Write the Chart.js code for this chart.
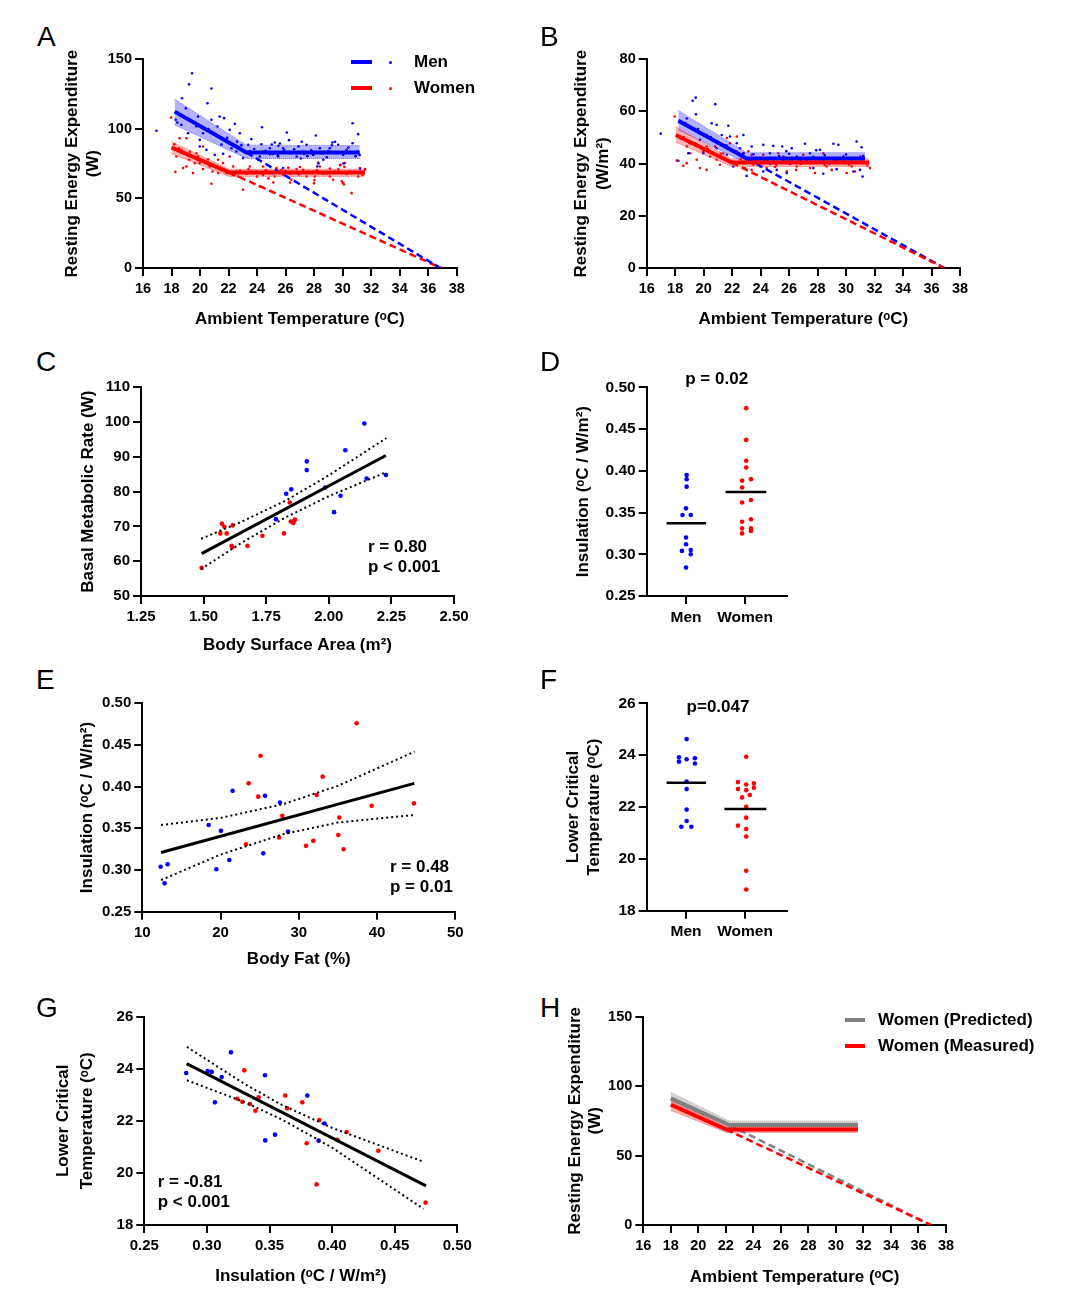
<!DOCTYPE html>
<html><head><meta charset="utf-8">
<script src="https://cdn.jsdelivr.net/npm/chart.js@4.4.0/dist/chart.umd.min.js"></script>
<style>
body{margin:0;background:#fff;width:1080px;height:1308px;position:relative;overflow:hidden;font-family:'Liberation Sans',Arial,sans-serif;}
canvas{position:absolute;}
.t{position:absolute;font-weight:bold;font-size:17px;line-height:20px;color:#000;white-space:nowrap;}
.c{transform:translateX(-50%);}
.L{position:absolute;font-size:28px;line-height:28px;color:#000;}
.sw{position:absolute;height:4px;}
.dot{position:absolute;width:3px;height:3px;border-radius:50%;}
</style></head><body>
<script>
// ---------------- DATA ----------------
const tempTicks = [16,18,20,22,24,26,28,30,32,34,36,38];
const reeWTicks = [0,50,100,150];
const reeM2Ticks = [0,20,40,60,80];
const bsaTicks = [1.25,1.50,1.75,2.00,2.25,2.50];
const bmrTicks = [50,60,70,80,90,100,110];
const insTicks = [0.25,0.30,0.35,0.40,0.45,0.50];
const fatTicks = [10,20,30,40,50];
const lctTicks = [18,20,22,24,26];
const groupTicks = [1,2];
const groupLabels = ['Men','Women'];

// Panel A (W)
const A_menFit = [[18.22,112.4],[23.26,83.0],[31.2,83.0]];
const A_menExt = [[23.26,83.0],[36.85,0]];
const A_menUp = [[18.22,121.3],[23.26,88.3],[31.2,88.0]];
const A_menLo = [[18.22,102.9],[23.26,78.7],[31.2,78.7]];
const A_womFit = [[18.0,86.6],[22.04,68.7],[31.56,68.7]];
const A_womExt = [[22.04,68.7],[36.9,0]];
const A_womUp = [[18.0,90.9],[22.04,71.1],[31.56,71.1]];
const A_womLo = [[18.0,82.1],[22.04,65.8],[31.56,65.8]];
const A_menPts = [[16.94,98.6],[19.44,140],[19.23,132],[20.80,129],[18.74,122],[20.52,118.4],[18.29,106.5],[19.86,108.9],[20.80,106.5],[21.38,108.9],[21.69,107.7],[21.22,101.7],[22.08,99.3],[22.44,103.6],[22.79,96.9],[24.35,101.2],[23.6,92.6],[25.24,90.2],[25.5,87.8],[26.09,97.4],[27.47,88.5],[28.12,95.2],[29.29,90.2],[30.7,104],[31.09,96.2],[30.7,89.7],[24.9,86.1],[26.77,80.1],[28.22,73],[25.83,71.8],[28.64,77.8],[30.04,81.3],[31.2,81.3],[24.07,77.8],[23.02,79],[22.2,86.1],[21.62,82.1],[20.21,96.9],[19.74,101.7],[19.16,96.9],[18.69,102.9],[18.46,111.2],[19.0,114.8],[19.51,105.3],[19.98,92.1],[20.45,84.9],[21.03,81.3],[19.98,87.3],[22.55,83.7],[24.42,83.7],[25.83,86.1],[27.12,83.7],[29.1,86.1],[30.28,84.9],[24.9,81.8],[26.3,82.5],[27.94,81.3],[29.57,82.5],[31.05,83.7],[23.37,88.5],[24.19,80.1],[25.48,80.1],[28.4,86.1],[29.69,88.5],[27.13,90.7],[26.24,91.9],[29.24,88.3],[29.47,90.7],[31.22,71.1],[28.3,75.1],[30.05,75.1],[25.03,88.8],[25.6,89.5],[25.45,81.1],[27.08,78.7],[27.53,80.4],
  [23.8,85.5],[24.6,84.2],[25.1,82.0],[25.9,84.8],[26.6,85.3],[27.3,81.9],[27.8,84.6],[28.6,82.3],[29.0,84.0],[29.9,83.1],[30.4,86.6],[30.9,80.4],[24.3,88.9],[26.9,87.4],[28.9,79.6],[23.5,84.0],[22.9,88.3],[21.9,93.5],[21.1,96.0],[20.6,99.8],[19.6,104.2],[18.9,108.0],[18.4,104.6],[22.6,90.8],[21.5,88.7]];
const A_womPts = [[17.97,108.1],[18.27,69.1],[18.57,93.3],[19.04,93.3],[18.81,71.8],[19.51,68.2],[20.80,60.5],[19.74,82.5],[20.21,87.3],[18.34,80.1],[18.69,84.9],[19.23,77.8],[19.98,75.4],[20.68,73],[21.27,77.8],[21.62,75.4],[22.08,80.1],[22.32,73],[23.02,56.2],[22.67,65.8],[23.49,73],[24.19,58.6],[24.42,73],[25.24,65.8],[25.83,67],[26.77,71.1],[27.94,69.4],[27.99,61],[28.29,75.8],[29.1,65.8],[29.85,74.2],[30.04,61],[30.63,53.8],[30.16,75.4],[31.56,70.6],[31.09,65.8],[22.55,69.4],[23.96,69.4],[24.89,68.2],[26.3,67.7],[27.23,70.6],[28.64,67.7],[30.51,69.4],[23.26,67.7],[24.42,67],[25.71,70.6],[27.47,65.8],[28.4,73],[29.45,69.4],[31.21,71.8],[21.85,68.2],[21.27,68.2],[20.87,69.4],[20.21,71.1],[19.63,75.4],[19.16,81.3],[19.86,80.1],[20.56,78.2],[21.15,73],[19.04,73],[28.05,65.8],[29.34,63.4],[26.41,63.4],[25.36,71.8],[29.82,73.9],[30.12,72.7],[29.94,62.4],[30.1,60],[31.57,71.1],[26.31,61.5],[28.02,63.2],[26.19,72],[24.79,64.4],[25.14,61.5],
  [22.8,69.8],[23.7,67.9],[24.6,70.4],[25.5,68.5],[26.0,69.8],[26.9,67.3],[27.6,69.1],[28.2,70.3],[28.9,68.1],[29.7,70.9],[30.3,67.6],[31.0,68.9],[22.3,66.9],[21.5,71.5],[20.9,74.4],[20.4,75.8],[19.3,83.6],[18.5,86.0],[18.2,88.9],[19.9,78.3],[23.4,71.2],[27.0,72.6],[29.1,71.4],[31.4,67.0],[24.0,65.7]];

// Panel B (W/m2)
const B_menFit = [[18.22,56.4],[23.02,42.0],[31.33,42.0]];
const B_menExt = [[23.02,42.0],[36.9,0]];
const B_menUp = [[18.22,60.4],[23.02,44.2],[31.33,44.2]];
const B_menLo = [[18.22,52.9],[23.02,40.2],[31.33,40.2]];
const B_womFit = [[18.04,51.0],[21.97,40.4],[31.63,40.4]];
const B_womExt = [[21.97,40.4],[36.9,0]];
const B_womUp = [[18.04,54.2],[21.97,41.9],[31.63,41.9]];
const B_womLo = [[18.04,48.2],[21.97,38.9],[31.63,38.9]];
const B_menPts = [[16.98,51.5],[19.44,65.3],[19.23,64.1],[20.82,62.8],[18.81,57.3],[19.46,58.9],[20.56,55.5],[20.91,54.9],[21.73,54.5],[22.79,51.0],[21.85,50.4],[21.27,51.0],[22.32,47.8],[20.21,51.0],[19.74,49.1],[19.04,47.8],[18.22,41.1],[18.93,44.0],[19.98,44.0],[20.91,45.9],[21.62,43.4],[23.37,46.6],[24.19,47.2],[24.89,46.8],[25.52,46.6],[26.18,45.9],[27.12,47.6],[28.17,45.3],[29.11,47.6],[29.46,47.2],[30.74,48.5],[31.09,46.3],[23.02,35.3],[24.19,37.0],[25.13,37.6],[25.83,36.4],[26.77,40.2],[27.7,38.3],[28.4,36.1],[29.34,37.9],[30.51,37.0],[31.16,35.1],[30.98,37.6],[23.96,42.1],[24.66,44.0],[25.6,41.5],[26.53,42.7],[27.47,44.0],[28.4,41.5],[29.81,42.7],[30.28,40.8],[23.6,40.8],[24.66,39.9],[26.06,39.9],[27.23,41.5],[28.87,39.9],[29.93,40.2],[22.08,38.9],[22.55,45.9],
  [23.5,43.6],[24.4,41.3],[25.3,42.9],[26.0,43.8],[26.8,41.0],[27.7,42.6],[28.5,43.2],[29.2,40.9],[30.0,43.5],[30.8,41.8],[31.2,42.9],[22.8,44.0],[21.6,47.0],[20.5,50.2],[19.6,53.3],[18.7,55.6],[25.8,44.8],[27.9,45.1]];
const B_womPts = [[17.97,58.1],[18.11,41.2],[18.57,39.2],[18.81,46.6],[19.28,47.8],[19.51,41.5],[19.74,38.3],[20.21,37.6],[19.98,44.7],[20.45,42.7],[20.8,46.6],[21.15,39.6],[21.62,49.8],[21.85,47.8],[22.32,50.4],[21.97,40.8],[22.79,44.0],[23.37,37.6],[23.72,41.5],[24.42,38.3],[24.89,40.8],[25.24,44.0],[25.83,37.0],[26.53,38.9],[27.23,41.5],[27.82,36.4],[28.64,38.9],[29.34,41.5],[30.04,36.4],[30.63,37.0],[31.21,40.2],[31.68,38.3],[24.19,43.4],[25.6,42.7],[27.0,43.4],[28.4,44.0],[29.81,41.5],[31.0,42.7],[23.02,41.5],[23.96,38.9],[25.01,38.7],[26.18,40.8],[27.47,38.3],[28.17,41.5],[28.99,37.6],[30.39,38.9],[19.04,44.0],[18.34,49.8],[20.21,46.6],[20.91,41.5],[21.38,44.0],[22.32,44.7],[23.14,44.7],[23.37,43.4],[18.81,40.2],
  [22.6,41.8],[23.5,39.6],[24.3,41.0],[25.1,39.5],[26.0,41.6],[26.8,39.9],[27.6,40.6],[28.5,39.6],[29.3,40.9],[30.2,39.7],[31.1,41.3],[31.5,39.2],[21.2,43.8],[20.3,45.6],[19.4,47.8],[18.6,50.2],[22.9,38.2],[26.5,37.6]];

// Panel C
const C_men = [[2.142,99.6],[2.066,91.9],[1.912,88.7],[1.912,86.2],[1.850,80.7],[1.830,79.4],[2.228,84.8],[2.151,83.8],[2.047,78.8],[2.021,74.1],[1.789,72.1],[1.985,81.2]];
const C_wom = [[1.844,76.9],[1.865,72.0],[1.848,71.4],[1.858,71.0],[1.862,71.6],[1.821,68.0],[1.735,67.3],[1.675,64.4],[1.615,64.0],[1.616,70.3],[1.573,70.8],[1.583,69.9],[1.567,68.0],[1.592,68.0],[1.492,58.1],[1.612,64.4]];
const C_fit = [[1.492,62.2],[2.228,90.4]];
const C_ciUp = [[1.49,66.45],[1.65,71.3],[1.83,77.5],[2.0,84.7],[2.23,95.4]];
const C_ciLo = [[1.49,57.75],[1.65,65.2],[1.83,72.7],[2.0,78.7],[2.23,85.6]];

// Panel D
const D_men = [[1.01,0.395],[1.01,0.390],[1.01,0.381],[1.0,0.355],[0.94,0.347],[1.08,0.347],[1.0,0.320],[1.0,0.312],[0.93,0.304],[1.08,0.305],[1.08,0.300],[1.0,0.284]];
const D_wom = [[2.02,0.475],[2.02,0.437],[2.02,0.412],[2.02,0.404],[2.1,0.390],[1.95,0.388],[1.95,0.380],[2.1,0.365],[1.95,0.362],[2.1,0.342],[1.95,0.339],[1.95,0.331],[2.1,0.331],[2.1,0.328],[1.95,0.325]];
const D_menMean = [[0.67,0.337],[1.34,0.337]];
const D_womMean = [[1.67,0.3746],[2.36,0.3746]];

// Panel E
const E_men = [[12.34,0.304],[13.24,0.307],[12.85,0.284],[18.48,0.354],[20.05,0.347],[19.46,0.301],[21.12,0.312],[21.54,0.395],[25.68,0.389],[25.46,0.320],[27.59,0.381],[28.62,0.346]];
const E_wom = [[37.39,0.476],[25.12,0.437],[23.59,0.404],[24.82,0.388],[33.05,0.412],[32.28,0.390],[27.89,0.365],[39.31,0.377],[44.72,0.380],[35.18,0.363],[35.05,0.342],[27.47,0.339],[31.85,0.335],[30.92,0.329],[35.73,0.325],[23.25,0.331]];
const E_fit = [[12.39,0.321],[44.76,0.404]];
const E_ciUp = [[12.4,0.354],[20,0.3625],[28,0.379],[35,0.401],[44.8,0.442]];
const E_ciLo = [[12.4,0.288],[20,0.3185],[28,0.343],[35,0.357],[44.8,0.366]];

// Panel F
const F_men = [[1.01,24.62],[0.88,23.92],[0.88,23.75],[1.01,23.84],[1.15,23.88],[1.15,23.68],[1.01,22.98],[1.01,22.69],[1.01,21.90],[1.01,21.46],[0.92,21.24],[1.09,21.24]];
const F_wom = [[2.02,23.94],[1.88,22.96],[2.02,22.87],[2.15,22.91],[1.88,22.69],[2.02,22.65],[2.15,22.74],[2.08,22.46],[1.95,22.37],[2.02,22.01],[2.02,21.59],[1.88,21.28],[2.02,21.15],[2.02,20.86],[2.02,19.54],[2.02,18.82]];
const F_menMean = [[0.67,22.94],[1.34,22.94]];
const F_womMean = [[1.65,21.92],[2.36,21.92]];

// Panel G
const G_men = [[0.2835,23.84],[0.3006,23.91],[0.3038,23.88],[0.3118,23.68],[0.3064,22.71],[0.3192,24.63],[0.3464,23.75],[0.3466,21.25],[0.3544,21.47],[0.3802,22.97],[0.3940,21.90],[0.3892,21.24]];
const G_wom = [[0.3299,23.94],[0.3243,22.85],[0.3283,22.73],[0.3344,22.65],[0.3387,22.39],[0.3413,22.90],[0.3626,22.97],[0.3642,22.48],[0.3762,22.71],[0.3898,22.03],[0.3797,21.14],[0.4042,21.27],[0.4116,21.57],[0.4369,20.85],[0.3876,19.56],[0.4747,18.86]];
const G_fit = [[0.2838,24.20],[0.475,19.50]];
const G_ciUp = [[0.284,24.84],[0.33,23.42],[0.36,22.61],[0.40,21.73],[0.473,20.43]];
const G_ciLo = [[0.284,23.56],[0.33,22.72],[0.36,22.05],[0.40,20.97],[0.473,18.62]];

// Panel H
const H_predFit = [[18.0,91.2],[22.25,72.0],[31.6,72.0]];
const H_predExt = [[22.25,72.0],[36.9,0]];
const H_predUp = [[18.0,95.5],[22.25,74.8],[31.6,74.8]];
const H_predLo = [[18.0,86.5],[22.25,69.4],[31.6,69.4]];
const H_measFit = [[18.0,86.6],[22.04,68.7],[31.6,68.7]];
const H_measExt = [[22.04,68.7],[36.9,0]];
const H_measUp = [[18.0,90.5],[22.04,70.8],[31.6,70.8]];
const H_measLo = [[18.0,82.5],[22.04,66.7],[31.6,66.7]];

// ---------------- STYLE / HELPERS ----------------
const BLUE='#0000ff', RED='#ff0000', GRAY='#808080';
const FAM="'Liberation Sans', Arial, sans-serif";
Chart.defaults.font.family = FAM;
Chart.defaults.color = '#000';
const DEG='\u1D52';

const P = a => a.map(p=>({x:p[0],y:p[1]}));
const line = (d,c,w,dash) => ({type:'line',data:P(d),borderColor:c,borderWidth:w,borderDash:dash||[],pointRadius:0,fill:false,tension:0,showLine:true,borderCapStyle:'butt'});
const bandUp = (d,fillc,edge) => ({type:'line',data:P(d),borderColor:edge,borderWidth:1,borderDash:[1,1],pointRadius:0,fill:'+1',backgroundColor:fillc,tension:0,showLine:true});
const bandLo = (d,edge) => ({type:'line',data:P(d),borderColor:edge,borderWidth:1,borderDash:[1,1],pointRadius:0,fill:false,tension:0,showLine:true});
const dots = (d,c,r) => ({type:'line',data:P(d),showLine:false,pointRadius:r,pointBackgroundColor:c,pointBorderWidth:0,pointHoverRadius:r});

function fmt(dec){return v=>Number(v).toFixed(dec);}

function axisCfg(o){
  return {
    type:'linear', min:o.min, max:o.max,
    afterBuildTicks:s=>{s.ticks=o.ticks.map(v=>({value:v}));},
    afterFit:o.fit,
    ticks:{callback:o.cb, font:{size:o.ts,weight:'bold'}, padding:o.pad, color:'#000', maxRotation:0, autoSkip:false},
    grid:{display:true,drawOnChartArea:false,drawTicks:true,tickLength:8,color:'#000',lineWidth:2},
    border:{display:true,color:'#000',width:2},
    title:{display:!!o.title,text:o.title||'',color:'#000',padding:0,font:{size:17,weight:'bold',lineHeight:(o.lh||20)/17}}
  };
}

function panel(s){
  const a=s.area;
  const left=Math.round(s.yTitleX - s.yLH/2);
  const top=Math.round(a.t-15);
  const padT=a.t-top;
  const yW=a.l-left;
  const bottom = s.xTitle ? s.xTitleY + s.xLH/2 : a.b+40;
  const H=Math.ceil(bottom-top);
  const xH=H-(a.b-top);
  const W=Math.ceil(a.r-left+22);
  const padR=W-(a.r-left);
  const cv=document.createElement('canvas');
  cv.width=W; cv.height=H;
  cv.style.left=left+'px'; cv.style.top=top+'px';
  cv.style.width=W+'px'; cv.style.height=H+'px';
  document.body.appendChild(cv);
  new Chart(cv,{
    type:'line',
    data:{datasets:s.datasets},
    options:{
      responsive:false, animation:false, devicePixelRatio:1,
      layout:{padding:{left:0,top:padT,right:padR,bottom:0}},
      plugins:{legend:{display:false},tooltip:{enabled:false}},
      scales:{
        x:axisCfg({min:s.xMin,max:s.xMax,ticks:s.xTicks,cb:s.xCb,ts:s.ts,pad:4,title:s.xTitle,lh:s.xLH,fit:sc=>{sc.height=xH;}}),
        y:axisCfg({min:s.yMin,max:s.yMax,ticks:s.yTicks,cb:s.yCb,ts:s.ts,pad:3,title:s.yTitle,lh:s.yLH,fit:sc=>{sc.width=yW;}})
      }
    }
  });
}
function txt(str,x,y,cls){const d=document.createElement('div');d.className='t '+(cls||'');d.textContent=str;d.style.left=x+'px';d.style.top=(y-10)+'px';document.body.appendChild(d);}
function letter(str,x,base){const d=document.createElement('div');d.className='L';d.textContent=str;d.style.left=x+'px';d.style.top=(base-23.7)+'px';document.body.appendChild(d);}
function swatch(x1,x2,y,c){const d=document.createElement('div');d.className='sw';d.style.left=x1+'px';d.style.width=(x2-x1)+'px';d.style.top=(y-2)+'px';d.style.background=c;document.body.appendChild(d);}
function dotEl(x,y,c){const d=document.createElement('div');d.className='dot';d.style.left=(x-1.5)+'px';d.style.top=(y-1.5)+'px';d.style.background=c;document.body.appendChild(d);}

const tempT = 'Ambient Temperature ('+DEG+'C)';
const insT = 'Insulation ('+DEG+'C / W/m\u00B2)';
const lctT = ['Lower Critical','Temperature ('+DEG+'C)'];
const idx = (labels)=>(v,i)=>labels[i];

// A
panel({area:{l:143,t:59.3,r:456.7,b:268},yTitleX:72.7,yLH:20.6,xTitleY:319,xLH:20,ts:14.5,
  xTitle:tempT,yTitle:['Resting Energy Expenditure','(W)'],
  xMin:16,xMax:38,xTicks:tempTicks,xCb:fmt(0),yMin:0,yMax:150,yTicks:reeWTicks,yCb:fmt(0),
  datasets:[line(A_menFit,BLUE,4),line(A_womFit,RED,4),line(A_menExt,BLUE,2.5,[7,4]),line(A_womExt,RED,2.5,[7,4]),
    bandUp(A_menUp,'rgba(0,0,255,0.3)','rgba(90,90,255,0.8)'),bandLo(A_menLo,'rgba(90,90,255,0.8)'),
    bandUp(A_womUp,'rgba(255,0,0,0.3)','rgba(255,90,90,0.8)'),bandLo(A_womLo,'rgba(255,90,90,0.8)'),
    dots(A_menPts,BLUE,1.3),dots(A_womPts,RED,1.3)]});
// B
panel({area:{l:646.7,t:59.3,r:960,b:268},yTitleX:581.7,yLH:21.3,xTitleY:319,xLH:20,ts:14.5,
  xTitle:tempT,yTitle:['Resting Energy Expenditure','(W/m\u00B2)'],
  xMin:16,xMax:38,xTicks:tempTicks,xCb:fmt(0),yMin:0,yMax:80,yTicks:reeM2Ticks,yCb:fmt(0),
  datasets:[line(B_womFit,RED,4),line(B_menFit,BLUE,4),line(B_womExt,RED,2.5,[7,4]),line(B_menExt,BLUE,2.5,[7,4]),
    bandUp(B_womUp,'rgba(255,0,0,0.3)','rgba(255,90,90,0.8)'),bandLo(B_womLo,'rgba(255,90,90,0.8)'),
    bandUp(B_menUp,'rgba(0,0,255,0.3)','rgba(90,90,255,0.8)'),bandLo(B_menLo,'rgba(90,90,255,0.8)'),
    dots(B_menPts,BLUE,1.3),dots(B_womPts,RED,1.3)]});
// C
panel({area:{l:141,t:387.3,r:454,b:596},yTitleX:88.3,yLH:20,xTitleY:645,xLH:20,ts:15,
  xTitle:'Body Surface Area (m\u00B2)',yTitle:'Basal Metabolic Rate (W)',
  xMin:1.25,xMax:2.5,xTicks:bsaTicks,xCb:fmt(2),yMin:50,yMax:110,yTicks:bmrTicks,yCb:fmt(0),
  datasets:[line(C_fit,'#000',3),line(C_ciUp,'#000',2,[2,3]),line(C_ciLo,'#000',2,[2,3]),dots(C_men,BLUE,2.3),dots(C_wom,RED,2.3)]});
// D
panel({area:{l:646.7,t:387.3,r:786.7,b:596},yTitleX:583.3,yLH:20,ts:15.5,
  xTitle:null,yTitle:insT,
  xMin:0.333,xMax:2.706,xTicks:groupTicks,xCb:idx(groupLabels),yMin:0.25,yMax:0.5,yTicks:insTicks,yCb:fmt(2),
  datasets:[line(D_menMean,'#000',2.5),line(D_womMean,'#000',2.5),dots(D_men,BLUE,2.3),dots(D_wom,RED,2.3)]});
// E
panel({area:{l:142.3,t:703.3,r:455.3,b:911.7},yTitleX:86.7,yLH:20,xTitleY:959,xLH:20,ts:15,
  xTitle:'Body Fat (%)',yTitle:insT,
  xMin:10,xMax:50,xTicks:fatTicks,xCb:fmt(0),yMin:0.25,yMax:0.5,yTicks:insTicks,yCb:fmt(2),
  datasets:[line(E_fit,'#000',3),line(E_ciUp,'#000',2,[2,3]),line(E_ciLo,'#000',2,[2,3]),dots(E_men,BLUE,2.3),dots(E_wom,RED,2.3)]});
// F
panel({area:{l:646.7,t:703.3,r:786.7,b:910.7},yTitleX:573.3,yLH:21.7,ts:15.5,
  xTitle:null,yTitle:lctT,
  xMin:0.333,xMax:2.706,xTicks:groupTicks,xCb:idx(groupLabels),yMin:18,yMax:26,yTicks:lctTicks,yCb:fmt(0),
  datasets:[line(F_menMean,'#000',2.5),line(F_womMean,'#000',2.5),dots(F_men,BLUE,2.3),dots(F_wom,RED,2.3)]});
// G
panel({area:{l:144.3,t:1016.7,r:457.3,b:1225},yTitleX:63.3,yLH:23.3,xTitleY:1276,xLH:20,ts:15,
  xTitle:insT,yTitle:lctT,
  xMin:0.25,xMax:0.5,xTicks:insTicks,xCb:fmt(2),yMin:18,yMax:26,yTicks:lctTicks,yCb:fmt(0),
  datasets:[line(G_fit,'#000',3),line(G_ciUp,'#000',2,[2,3]),line(G_ciLo,'#000',2,[2,3]),dots(G_men,BLUE,2.3),dots(G_wom,RED,2.3)]});
// H
panel({area:{l:643.3,t:1016.7,r:946,b:1225},yTitleX:575,yLH:20,xTitleY:1276.7,xLH:20,ts:14.5,
  xTitle:tempT,yTitle:['Resting Energy Expenditure','(W)'],
  xMin:16,xMax:38,xTicks:tempTicks,xCb:fmt(0),yMin:0,yMax:150,yTicks:reeWTicks,yCb:fmt(0),
  datasets:[line(H_measFit,RED,4),line(H_predFit,GRAY,4),line(H_measExt,RED,2.5,[7,4]),line(H_predExt,GRAY,2.5,[7,4]),
    bandUp(H_measUp,'rgba(255,0,0,0.3)','rgba(255,90,90,0.8)'),bandLo(H_measLo,'rgba(255,90,90,0.8)'),
    bandUp(H_predUp,'rgba(128,128,128,0.35)','rgba(160,160,160,0.9)'),bandLo(H_predLo,'rgba(160,160,160,0.9)')]});

// Annotations
txt('r = 0.80',368,546.7); txt('p < 0.001',368,566.7);
txt('p = 0.02',716.7,379,'c');
txt('r = 0.48',390,867.3); txt('p = 0.01',390,887.3);
txt('p=0.047',718,707,'c');
txt('r = -0.81',157.7,1181.7); txt('p < 0.001',157.7,1201.7);

// Legends
swatch(351,372,62.3,BLUE); dotEl(390,62.3,BLUE); txt('Men',414,62.3);
swatch(351,372,88.3,RED); dotEl(390,88.3,RED); txt('Women',414,88.3);
swatch(845,865,1020,GRAY); txt('Women (Predicted)',878,1020);
swatch(845,865,1046,RED); txt('Women (Measured)',878,1046);

// Panel letters
letter('A',37,47); letter('B',540,47);
letter('C',36,372); letter('D',540,372);
letter('E',36,690); letter('F',540,690);
letter('G',36,1018); letter('H',540,1018);
</script>
</body></html>
